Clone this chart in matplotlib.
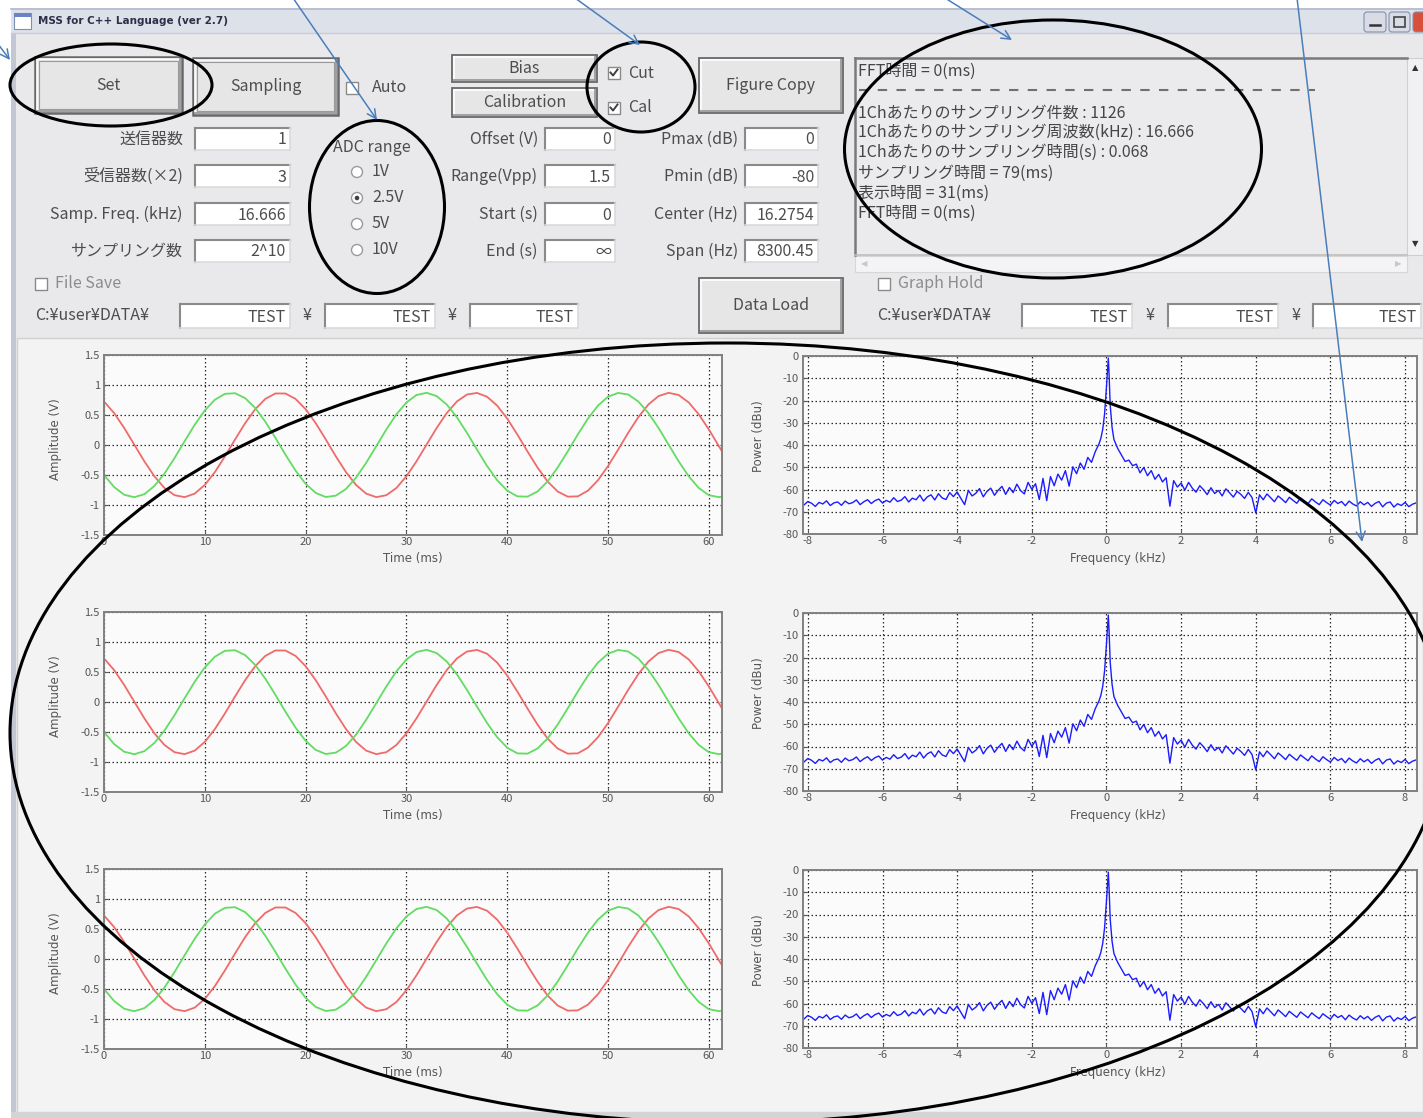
import numpy as np
import matplotlib
matplotlib.use('Agg')
import matplotlib.pyplot as plt
from matplotlib.patches import Rectangle, Ellipse, Circle, FancyBboxPatch
from matplotlib.lines import Line2D

plt.rcParams['font.family'] = ['Noto Sans CJK JP', 'DejaVu Sans']
plt.rcParams['axes.unicode_minus'] = False

W, H, DPI = 1423, 1118, 100

# ---------------- data ----------------
window_title = 'MSS for C++ Language (ver 2.7)'

left_labels = ['送信器数', '受信器数(×2)', 'Samp. Freq. (kHz)', 'サンプリング数']
left_values = ['1', '3', '16.666', '2^10']
mid_labels = ['Offset (V)', 'Range(Vpp)', 'Start (s)', 'End (s)']
mid_values = ['0', '1.5', '0', '∞']
right_labels = ['Pmax (dB)', 'Pmin (dB)', 'Center (Hz)', 'Span (Hz)']
right_values = ['0', '-80', '16.2754', '8300.45']
adc_title = 'ADC range'
adc_options = ['1V', '2.5V', '5V', '10V']
adc_selected = 1
path_prefix = 'C:¥user¥DATA¥'
path_parts = ['TEST', 'TEST', 'TEST']
log_lines = ['FFT時間 = 0(ms)',
             None,
             '1Chあたりのサンプリング件数 : 1126',
             '1Chあたりのサンプリング周波数(kHz) : 16.666',
             '1Chあたりのサンプリング時間(s) : 0.068',
             'サンプリング時間 = 79(ms)',
             '表示時間 = 31(ms)',
             'FFT時間 = 0(ms)']

time_ms = list(range(62)) + [61.4]
ch_red = [0.725, 0.533, 0.285, 0.007, -0.272, -0.522, -0.717, -0.837, -0.869, -0.810,
          -0.665, -0.451, -0.189, 0.092, 0.364, 0.597, 0.768, 0.859, 0.858, 0.768,
          0.597, 0.364, 0.092, -0.190, -0.451, -0.666, -0.810, -0.869, -0.837, -0.717,
          -0.521, -0.271, 0.007, 0.285, 0.533, 0.725, 0.841, 0.868, 0.804, 0.656,
          0.439, 0.175, -0.106, -0.376, -0.608, -0.775, -0.861, -0.856, -0.761, -0.587,
          -0.350, -0.077, 0.204, 0.464, 0.675, 0.815, 0.870, 0.833, 0.709, 0.510,
          0.258, -0.022, -0.134]
ch_green = [-0.499, -0.700, -0.829, -0.870, -0.820, -0.683, -0.475, -0.217, 0.064, 0.338,
            0.576, 0.755, 0.853, 0.863, 0.781, 0.618, 0.389, 0.120, -0.162, -0.427,
            -0.647, -0.799, -0.867, -0.844, -0.733, -0.544, -0.298, -0.021, 0.258, 0.510,
            0.709, 0.833, 0.870, 0.815, 0.674, 0.463, 0.203, -0.078, -0.351, -0.587,
            -0.762, -0.856, -0.861, -0.775, -0.608, -0.376, -0.106, 0.176, 0.439, 0.657,
            0.805, 0.868, 0.841, 0.725, 0.533, 0.285, 0.007, -0.272, -0.522, -0.717,
            -0.837, -0.869, -0.856]
amp_ticks = [-1.5, -1, -0.5, 0, 0.5, 1, 1.5]
amp_labels = ['-1.5', '-1', '-0.5', '0', '0.5', '1', '1.5']
time_ticks = [0, 10, 20, 30, 40, 50, 60]

spec_freq_neg = np.round(np.arange(-8.1, -0.25, 0.1), 2)
spec_freq_peak = [-0.2, -0.15, -0.1, -0.05, 0.0, 0.03, 0.05, 0.07, 0.1, 0.15, 0.2, 0.3]
spec_freq_pos = np.round(np.arange(0.4, 8.35, 0.1), 2)
spec_pow_neg = [-66.9, -65.4, -66.2, -67.6, -65.8, -66.5, -65.1, -67.2, -66.0, -65.6,
                -67.1, -65.2, -66.4, -65.9, -64.7, -66.8, -65.5, -64.6, -66.3, -65.0,
                -64.3, -66.1, -64.9, -65.7, -63.7, -65.4, -64.8, -63.2, -65.6, -63.9,
                -64.6, -62.5, -65.2, -63.3, -62.4, -64.7, -61.9, -63.8, -64.5, -61.4,
                -63.2, -61.1, -64.0, -66.8, -60.4, -62.9, -61.7, -59.6, -63.3, -60.8,
                -59.4, -62.6, -60.3, -58.6, -62.2, -59.1, -61.4, -57.6, -60.5, -62.0,
                -56.8, -59.9, -57.4, -64.5, -55.0, -65.0, -54.2, -58.3, -53.1, -55.8,
                -51.5, -58.5, -49.8, -52.9, -48.1, -50.9, -45.6, -47.8, -43.0]
spec_pow_peak = [-39.5, -37.0, -33.0, -26.0, -14.0, -6.0, -1.0, -8.0, -22.0, -32.0, -37.5, -41.5]
spec_pow_pos = [-44.5, -47.4, -46.8, -49.3, -48.6, -52.5, -50.1, -53.8, -51.5, -55.4,
                -53.2, -56.6, -54.7, -67.5, -56.0, -58.9, -57.1, -60.3, -56.8, -59.4,
                -61.2, -58.3, -60.1, -62.3, -59.2, -61.8, -60.4, -62.9, -59.7, -61.5,
                -63.4, -60.8, -62.2, -64.0, -61.3, -63.6, -70.5, -62.4, -64.6, -62.0,
                -63.7, -65.5, -62.9, -64.3, -65.9, -63.5, -64.9, -66.2, -63.8, -65.1,
                -66.4, -64.2, -65.6, -66.8, -64.6, -65.9, -67.0, -64.9, -66.3, -65.4,
                -67.3, -65.2, -66.5, -67.4, -65.5, -66.9, -65.8, -67.6, -66.2, -65.4,
                -67.8, -66.1, -65.6, -67.9, -66.4, -67.2, -65.8, -67.7, -66.6, -66.0]
spec_freq = np.concatenate([spec_freq_neg, spec_freq_peak, spec_freq_pos])
spec_pow = np.array(spec_pow_neg + spec_pow_peak + spec_pow_pos)
n = min(len(spec_freq), len(spec_pow))
spec_freq, spec_pow = spec_freq[:n], spec_pow[:n]
pow_ticks = [0, -10, -20, -30, -40, -50, -60, -70, -80]
freq_ticks = [-8, -6, -4, -2, 0, 2, 4, 6, 8]

# ---------------- figure ----------------
TXT = '#4d4d4d'
LIGHT = '#8c8c8c'
WIN = '#e9e9eb'

fig = plt.figure(figsize=(W / DPI, H / DPI), dpi=DPI)
fig.patch.set_facecolor('white')

bg = fig.add_axes([0, 0, 1, 1], zorder=0)
bg.set_xlim(0, W)
bg.set_ylim(H, 0)
bg.axis('off')


def rect(x0, y0, x1, y1, fc, ec='none', lw=1.0, z=1, ax=None):
    (ax or bg).add_patch(Rectangle((x0, y0), x1 - x0, y1 - y0, facecolor=fc,
                                   edgecolor=ec, linewidth=lw, zorder=z))


def line(xs, ys, color, lw=1.0, z=2, ax=None, **kw):
    (ax or bg).add_line(Line2D(xs, ys, color=color, linewidth=lw, zorder=z, **kw))


def txt(x, y, s, size=11.5, color=TXT, ha='left', va='center', clip=None, **kw):
    t = bg.text(x, y, s, fontsize=size, color=color, ha=ha, va=va, zorder=5, **kw)
    if clip is not None:
        cp = Rectangle((clip[0], clip[1]), clip[2] - clip[0], clip[3] - clip[1],
                       transform=bg.transData, facecolor='none', edgecolor='none')
        t.set_clip_path(cp)
    return t


def button(x0, y0, x1, y1, label, default=False):
    rect(x0, y0, x1, y1, '#e6e6e6', '#686868', 1.8 if default else 1.3, z=2)
    line([x0 + 2, x1 - 2], [y0 + 2, y0 + 2], 'white', 1.2, z=3)
    line([x0 + 2, x0 + 2], [y0 + 2, y1 - 2], 'white', 1.2, z=3)
    line([x0 + 2, x1 - 2], [y1 - 2.5, y1 - 2.5], '#a0a0a0', 1.4, z=3)
    line([x1 - 2.5, x1 - 2.5], [y0 + 2, y1 - 2], '#a0a0a0', 1.4, z=3)
    if default:
        rect(x0 + 4, y0 + 4, x1 - 4, y1 - 4, 'none', '#9a9a9a', 0.8, z=3)
    txt((x0 + x1) / 2, (y0 + y1) / 2, label, ha='center')


def entry(x0, y0, x1, y1, value):
    rect(x0, y0, x1, y1, 'white', 'none', z=2)
    line([x0, x1], [y0, y0], '#8a8a8a', 1.5, z=3)
    line([x0, x0], [y0, y1], '#8a8a8a', 1.5, z=3)
    line([x0, x1], [y1, y1], '#dadada', 1.2, z=3)
    line([x1, x1], [y0, y1], '#dadada', 1.2, z=3)
    txt(x1 - 4, (y0 + y1) / 2 + 1, value, ha='right', clip=(x0 + 2, y0, x1 - 1, y1))


def checkbox(x, y, checked=False):
    rect(x - 6, y - 6, x + 6, y + 6, 'white', '#8a8a8a', 1.0, z=3)
    if checked:
        line([x - 3.5, x - 1, x + 3.5], [y - 0.5, y + 2.5, y - 3.5], '#404040', 1.4, z=4)


def radio(x, y, selected=False):
    bg.add_patch(Circle((x, y), 5.5, facecolor='white', edgecolor='#9a9a9a', lw=1.0, zorder=3))
    if selected:
        bg.add_patch(Circle((x, y), 2.3, facecolor='#404040', edgecolor='none', zorder=4))


# window frame
rect(11, 8, W, H, WIN, z=0.5)
rect(11, 8, 16, H, '#c3c7d4', z=0.6)
rect(11, 8, W, 33, '#dde1ea', z=0.6)
line([11, W], [8.5, 8.5], '#b5bacb', 1.2, z=0.7)
line([11, W], [33, 33], '#c9ccd6', 1.0, z=0.7)
rect(14, 13, 31, 29, 'white', '#7f8fb0', 0.8, z=0.8)
rect(14, 13, 31, 17, '#6b83c2', 'none', z=0.9)
bg.text(38, 21, window_title, fontsize=7.5, fontweight='bold', color='#2b2f48',
        family='DejaVu Sans', ha='left', va='center', zorder=5)
for bx0, bx1, col in [(1364, 1386, '#d9dce6'), (1389, 1410, '#d9dce6'), (1413, 1430, '#d8503c')]:
    bg.add_patch(FancyBboxPatch((bx0, 12), bx1 - bx0, 20, boxstyle='round,pad=0,rounding_size=3',
                                facecolor=col, edgecolor='#8890a8', lw=0.8, zorder=1))
line([1370, 1380], [25, 25], '#333', 1.8, z=2)
rect(1394, 17, 1405, 27, 'none', '#444', 1.2, z=2)

# plot panel
rect(17, 338, W, 1112, '#f3f3f3', '#d0d0d0', 1.0, z=0.7)
rect(11, 1112, W, H, '#d4d4d6', z=0.8)

# top-left controls
button(35, 57, 182, 113, 'Set', default=True)
button(193, 58, 338, 115, 'Sampling', default=True)
checkbox(352, 88)
txt(372, 88, 'Auto')
row_y = [139, 176, 214, 251]
for lab, val, yy in zip(left_labels, left_values, row_y):
    txt(183, yy, lab, ha='right')
    entry(195, yy - 11, 290, yy + 11, val)

txt(333, 148, adc_title)
for i, (opt, yy) in enumerate(zip(adc_options, [172, 198, 224, 250])):
    radio(357, yy, i == adc_selected)
    txt(372, yy, opt)

# middle controls
button(452, 55, 597, 82, 'Bias')
button(452, 88, 597, 117, 'Calibration')
checkbox(614, 73, True)
txt(628, 73, 'Cut')
checkbox(614, 108, True)
txt(628, 108, 'Cal')
button(699, 58, 843, 113, 'Figure Copy')
button(699, 278, 843, 333, 'Data Load')
for lab, val, yy in zip(mid_labels, mid_values, row_y):
    txt(538, yy, lab, ha='right')
    entry(545, yy - 11, 615, yy + 11, val)
for lab, val, yy in zip(right_labels, right_values, row_y):
    txt(738, yy, lab, ha='right')
    entry(745, yy - 11, 818, yy + 11, val)

# file save rows
checkbox(41, 284)
txt(55, 284, 'File Save', color=LIGHT)
txt(35, 316, path_prefix)
for (bx0, bx1), part in zip([(180, 290), (325, 435), (470, 578)], path_parts):
    entry(bx0, 304, bx1, 328, part)
for sx in [307, 452]:
    txt(sx, 316, '¥', ha='center')
checkbox(884, 284)
txt(898, 284, 'Graph Hold', color=LIGHT)
txt(877, 316, path_prefix)
for (bx0, bx1), part in zip([(1022, 1132), (1168, 1278), (1313, 1421)], path_parts):
    entry(bx0, 304, bx1, 328, part)
for sx in [1150, 1296]:
    txt(sx, 316, '¥', ha='center')

# log text box
rect(855, 58, 1407, 255, '#ebebed', 'none', z=1)
line([855, 1407], [58, 58], '#7a7a7a', 1.8, z=2)
line([855, 855], [58, 255], '#7a7a7a', 1.8, z=2)
line([855, 1407], [255, 255], '#bdbdbd', 1.2, z=2)
rect(1407, 58, W, 255, '#f1f1f3', '#cfcfcf', 0.8, z=1)
txt(1415, 68, '▲', size=6, color='#333', ha='center', family='DejaVu Sans')
txt(1415, 244, '▼', size=6, color='#333', ha='center', family='DejaVu Sans')
rect(855, 256, 1407, 272, '#f4f4f6', '#d6d6d6', 0.8, z=1)
txt(864, 264, '◀', size=6, color='#c8c8c8', ha='center', family='DejaVu Sans')
txt(1398, 264, '▶', size=6, color='#c8c8c8', ha='center', family='DejaVu Sans')
log_y = [71, 90, 113, 132, 152, 173, 193, 213]
for s, yy in zip(log_lines, log_y):
    if s is None:
        line([859, 1315], [yy, yy], '#707070', 1.5, z=3, dashes=(4.5, 4.5))
    else:
        txt(858, yy, s, size=11.5, color='#454545')


# ---------------- plots ----------------
def frac(x0, y0, x1, y1):
    return [x0 / W, 1 - y1 / H, (x1 - x0) / W, (y1 - y0) / H]


def style(ax):
    ax.set_facecolor('#fbfbfb')
    for sp in ax.spines.values():
        sp.set_color('#808080')
        sp.set_linewidth(1.4)
    ax.tick_params(labelsize=8, colors='#555555', direction='in', length=3, pad=3, width=0.8)
    ax.grid(True, color='#2a2a2a', linestyle=(0, (1.2, 2.0)), linewidth=0.9)
    ax.set_axisbelow(True)


time_rows = [(355, 535), (612, 792), (869, 1049)]
spec_rows = [(356, 534), (613, 791), (870, 1048)]

for (y0, y1) in time_rows:
    ax = fig.add_axes(frac(104, y0, 722, y1), zorder=2)
    style(ax)
    ax.plot(time_ms, ch_red, color='#f06a6a', lw=1.3)
    ax.plot(time_ms, ch_green, color='#62dc62', lw=1.3)
    ax.set_xlim(0, 61.3)
    ax.set_ylim(-1.5, 1.5)
    ax.set_xticks(time_ticks)
    ax.set_yticks(amp_ticks)
    ax.set_yticklabels(amp_labels)
    ax.tick_params(axis='x', pad=1.5)
    ax.set_xlabel('Time (ms)', fontsize=8.5, color='#555555', family='DejaVu Sans')
    ax.set_ylabel('Amplitude (V)', fontsize=8.5, color='#555555', family='DejaVu Sans')
    ax.xaxis.set_label_coords(0.5, -0.094)
    ax.yaxis.set_label_coords(-0.068, 0.53)

for (y0, y1) in spec_rows:
    ax = fig.add_axes(frac(803, y0, 1417, y1), zorder=2)
    style(ax)
    ax.plot(spec_freq, spec_pow, color='#1c1cff', lw=1.0)
    ax.set_xlim(-8.13, 8.32)
    ax.set_ylim(-80, 0)
    ax.set_xticks(freq_ticks)
    ax.set_yticks(pow_ticks)
    ax.tick_params(axis='x', pad=1.5)
    ax.set_xlabel('Frequency (kHz)', fontsize=8.5, color='#555555', family='DejaVu Sans')
    ax.set_ylabel('Power (dBu)', fontsize=8.5, color='#555555', family='DejaVu Sans')
    ax.xaxis.set_label_coords(0.513, -0.10)
    ax.yaxis.set_label_coords(-0.062, 0.55)

# ---------------- annotations overlay ----------------
ov = fig.add_axes([0, 0, 1, 1], zorder=10)
ov.set_xlim(0, W)
ov.set_ylim(H, 0)
ov.axis('off')
ov.patch.set_alpha(0)

for (cx, cy, ew, eh) in [(111, 85, 202, 82), (377, 207, 135, 173), (641, 87, 108, 90),
                         (1053, 149, 417, 258), (727, 733, 1434, 780)]:
    ov.add_patch(Ellipse((cx, cy), ew, eh, facecolor='none', edgecolor='black', lw=2.2))

ARROW = '#4a7ebb'
for (sx, sy, ex, ey) in [(-8, 36, 10, 60), (293, -2, 377, 120), (575, -2, 640, 45),
                         (945, -2, 1012, 40), (1297, -2, 1362, 542)]:
    ov.annotate('', xy=(ex, ey), xytext=(sx, sy), xycoords='data', textcoords='data',
                annotation_clip=False,
                arrowprops=dict(arrowstyle='->', color=ARROW, lw=1.1, mutation_scale=16,
                                shrinkA=0, shrinkB=0))

fig.savefig('out.png', dpi=DPI, facecolor=fig.get_facecolor())
